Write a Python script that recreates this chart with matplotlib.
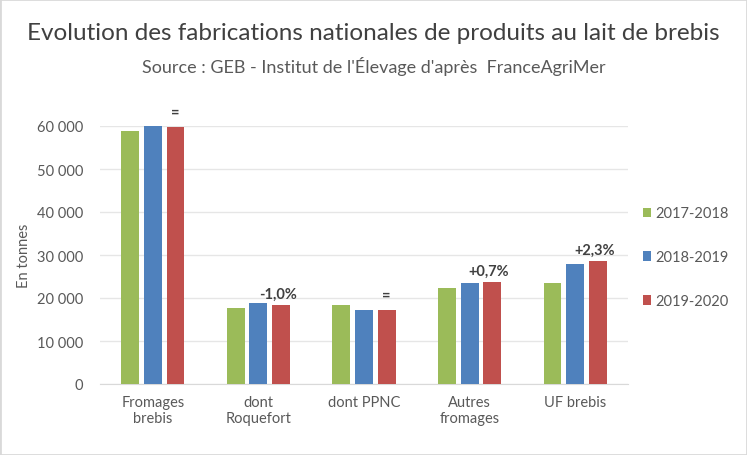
import matplotlib
matplotlib.use("Agg")
import matplotlib.pyplot as plt
import numpy as np
from matplotlib.patches import Rectangle

categories = ["Fromages\nbrebis", "dont\nRoquefort", "dont PPNC", "Autres\nfromages", "UF brebis"]
series_names = ["2017-2018", "2018-2019", "2019-2020"]
v_2017_2018 = [58800, 17700, 18450, 22300, 23400]
v_2018_2019 = [59900, 18770, 17200, 23570, 27800]
v_2019_2020 = [59750, 18450, 17200, 23700, 28500]
annotations = ["=", "-1,0%", "=", "+0,7%", "+2,3%"]
yticks = [0, 10000, 20000, 30000, 40000, 50000, 60000]
ytick_labels = ["0", "10 000", "20 000", "30 000", "40 000", "50 000", "60 000"]

colors = ["#9BBB59", "#4F81BD", "#C0504D"]
txt = "#595959"

plt.rcParams['font.family'] = ['Lato', 'DejaVu Sans']

fig = plt.figure(figsize=(7.47, 4.56), dpi=100)
ax = fig.add_axes([100/747, 1-385/456, (628-100)/747, (385-127)/456])

x = np.arange(len(categories))
w = 0.17
step = 0.215
series = [v_2017_2018, v_2018_2019, v_2019_2020]
for i, (vals, name, c) in enumerate(zip(series, series_names, colors)):
    ax.bar(x + (i-1)*step, vals, width=w, color=c, label=name, zorder=3)

for xi, lab, v in zip(x, annotations, v_2019_2020):
    off = 0.0 if lab == "=" else -0.03
    dy = 6 if lab == "=" else 3
    ax.annotate(lab, (xi + step + off, v), xytext=(0, dy), textcoords="offset points",
                ha="center", va="bottom", fontsize=10.5, fontweight="bold", color="#404040",
                annotation_clip=False)

ax.set_ylim(0, 60000)
ax.set_xlim(-0.5, 4.5)
ax.set_yticks(yticks)
ax.set_yticklabels(ytick_labels)
ax.set_xticks(x)
ax.set_xticklabels(categories)
ax.tick_params(axis='both', length=0, labelsize=10.5, colors=txt)
ax.tick_params(axis='x', pad=8)
ax.tick_params(axis='y', pad=12)
ax.grid(axis='y', color="#E6E6E6", linewidth=1, zorder=0)
for s in ["top", "right", "left"]:
    ax.spines[s].set_visible(False)
ax.spines["bottom"].set_color("#D9D9D9")
ax.set_ylabel("En tonnes", color=txt, fontsize=10.5, labelpad=4)

leg = ax.legend(loc="upper left", bbox_to_anchor=(1.0, 0.745), frameon=False,
                fontsize=10.5, handlelength=0.6, handleheight=0.6, handletextpad=0.3,
                labelspacing=2.05, borderaxespad=0.6)
for t in leg.get_texts():
    t.set_color(txt)

fig.text(0.5, 1-34/456, "Evolution des fabrications nationales de produits au lait de brebis",
         ha="center", va="center", fontsize=17.5, color="#404040")
fig.text(0.5, 1-66/456, "Source : GEB - Institut de l'Élevage d'après  FranceAgriMer",
         ha="center", va="center", fontsize=13, color=txt)

fig.patches.append(Rectangle((0, 0), 1, 1, transform=fig.transFigure, fill=False,
                             edgecolor="#D9D9D9", linewidth=2))

fig.savefig("out.png", dpi=100)
